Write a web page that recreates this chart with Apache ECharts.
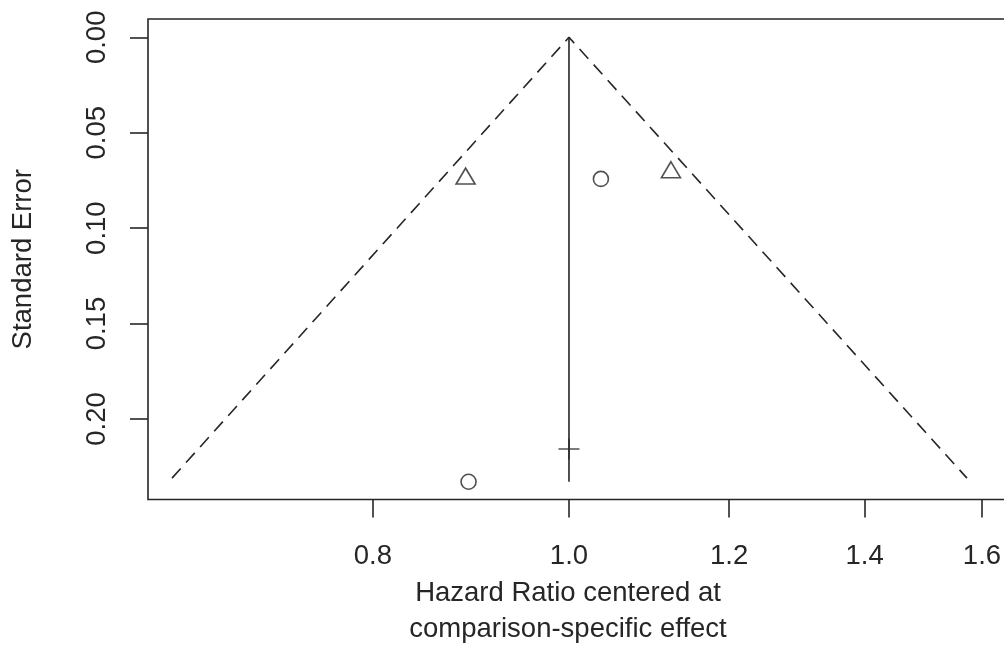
<!DOCTYPE html>
<html>
<head>
<meta charset="utf-8">
<script src="https://cdn.jsdelivr.net/npm/echarts@6/dist/echarts.min.js"></script>
<style>
  html, body { margin: 0; padding: 0; background: #fff; }
  #chart { width: 1004px; height: 645px; }
</style>
</head>
<body>
<div id="chart"></div>
<script>
// studies: hazard ratio (centered) and standard error
var triangleHR = [0.889, 1.123];
var triangleSE = [0.0727, 0.0694];
var circleHR = [1.037, 0.892];
var circleSE = [0.0742, 0.2329];
var plusHR = [1.0];
var plusSE = [0.2157];

// funnel (pseudo 95% limits) and reference line
var funnelHR = [0.6365, 1.0, 1.5729];
var funnelSE = [0.231, 0.0, 0.231];
var refHR = [1.0, 1.0];
var refSE = [0.0, 0.2329];

var xTicks = [0.8, 1.0, 1.2, 1.4, 1.6];
var yTicks = [0.00, 0.05, 0.10, 0.15, 0.20];

var FONT = 'Liberation Sans, Arial, Helvetica, sans-serif';
var INK = '#262626';

function pairs(hr, se) {
    return hr.map(function (h, i) { return [Math.log(h), se[i]]; });
}

var option = {
    animation: false,
    grid: {
        left: 148,
        top: 19,
        width: 862,
        height: 480.5,
        outerBoundsMode: 'none',
        containLabel: false,
        show: true,
        borderColor: INK,
        borderWidth: 1.6,
        backgroundColor: 'transparent'
    },
    xAxis: {
        type: 'value',
        min: -0.4791,
        max: 0.5019,
        name: 'Hazard Ratio centered at\ncomparison-specific effect',
        nameLocation: 'middle',
        nameGap: 75,
        nameTextStyle: {
            fontFamily: FONT,
            fontSize: 27.5,
            color: INK,
            lineHeight: 36,
            verticalAlign: 'top',
            padding: [0, 22, 0, 0]
        },
        axisLine: { show: false, onZero: false },
        splitLine: { show: false },
        axisTick: {
            show: true,
            length: 18,
            customValues: xTicks.map(Math.log),
            lineStyle: { color: INK, width: 1.6 }
        },
        axisLabel: {
            show: true,
            margin: 43,
            customValues: xTicks.map(Math.log),
            formatter: function (v) { return Math.exp(v).toFixed(1); },
            fontFamily: FONT,
            fontSize: 27.5,
            color: INK
        }
    },
    yAxis: {
        type: 'value',
        inverse: true,
        min: -0.0096,
        max: 0.2422,
        name: 'Standard Error',
        nameLocation: 'middle',
        nameGap: 111,
        nameTextStyle: {
            fontFamily: FONT,
            fontSize: 27.5,
            color: INK
        },
        axisLine: { show: false, onZero: false },
        splitLine: { show: false },
        axisTick: {
            show: true,
            length: 18,
            customValues: yTicks,
            lineStyle: { color: INK, width: 1.6 }
        },
        axisLabel: {
            show: true,
            rotate: 90,
            margin: 37,
            customValues: yTicks,
            formatter: function (v) { return v.toFixed(2); },
            fontFamily: FONT,
            fontSize: 27.5,
            color: INK
        }
    },
    series: [
        {
            type: 'line',
            data: pairs(funnelHR, funnelSE),
            symbol: 'none',
            lineStyle: { color: INK, width: 1.6, type: [13, 8] },
            silent: true
        },
        {
            type: 'line',
            data: pairs(refHR, refSE),
            symbol: 'none',
            lineStyle: { color: INK, width: 1.6 },
            silent: true
        },
        {
            type: 'scatter',
            data: pairs(triangleHR, triangleSE),
            symbol: 'triangle',
            symbolSize: [19, 16],
            itemStyle: { color: 'transparent', borderColor: INK, borderWidth: 1.6 }
        },
        {
            type: 'scatter',
            data: pairs(circleHR, circleSE),
            symbol: 'circle',
            symbolSize: 15,
            itemStyle: { color: 'transparent', borderColor: INK, borderWidth: 1.6 }
        },
        {
            type: 'scatter',
            data: pairs(plusHR, plusSE),
            symbol: 'path://M0,-10 L0,10 M-10,0 L10,0',
            symbolSize: 21,
            itemStyle: { color: 'transparent', borderColor: INK, borderWidth: 1.6 }
        }
    ]
};

var chart = echarts.init(document.getElementById('chart'));
chart.setOption(option);
</script>
</body>
</html>
